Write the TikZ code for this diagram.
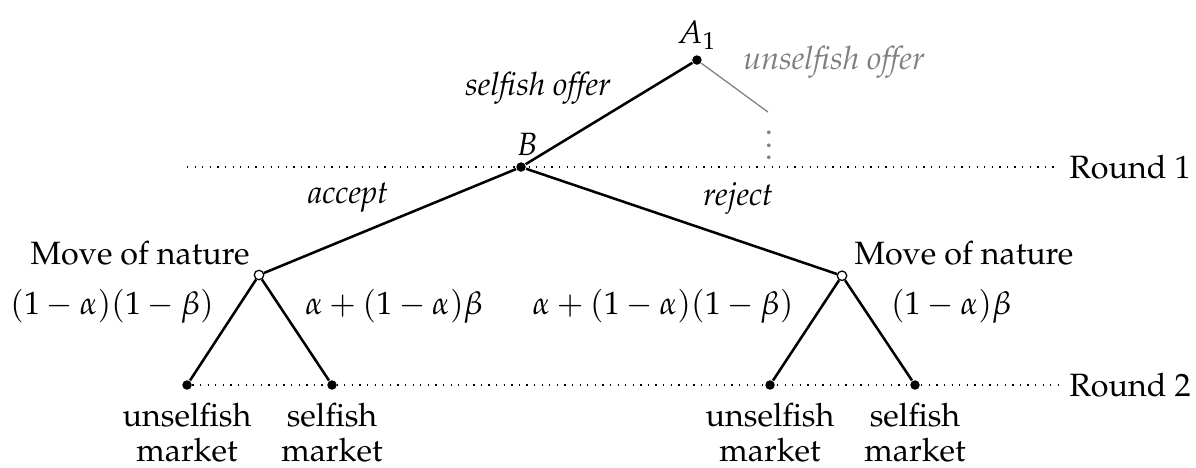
\documentclass[tikz,border=0pt]{standalone}
\usepackage[T1]{fontenc}
\usepackage{mathpazo}
\usepackage{tikz}

\begin{document}
\fontsize{10.2}{11.2}\selectfont
\begin{tikzpicture}
    % styles
    \tikzstyle{player}=[circle, fill=black, inner sep=0pt, minimum size=3pt]
    \tikzstyle{nature}=[circle, draw, fill=white, inner sep=0pt, minimum size=3pt, line width=0.4pt]
    \tikzstyle{move}=[thick]
    \tikzstyle{action}=[font=\itshape]
    \tikzstyle{outcome}=[anchor=north, align=center]
    \tikzstyle{roundline}=[dotted]

    \useasboundingbox (0,0) rectangle (13.289,5.189);

    % decision nodes
    \node[player] (A) at (7.744,4.522) {};
    \node[player] (B) at (5.789,3.333) {};
    \coordinate (U) at (8.533,3.944);

    % moves of nature
    \node[nature] (NL) at (2.878,2.133) {};
    \node[nature] (NR) at (9.356,2.125) {};

    % markets
    \node[player] (LL) at (2.078,0.911) {};
    \node[player] (LR) at (3.689,0.911) {};
    \node[player] (RL) at (8.556,0.911) {};
    \node[player] (RR) at (10.167,0.911) {};

    % rounds
    \node[anchor=west] (R1) at (11.756,3.333) {Round 1};
    \node[anchor=west] (R2) at (11.756,0.911) {Round 2};
    \coordinate (R1s) at (2.078,3.333);
    \draw[roundline] (R1s) -- (R1.west);
    \draw[roundline] (LL) -- (R2.west);

    % edges
    \draw[move] (A) -- (B);
    \draw[gray] (A) -- (U);
    \draw[move] (B) -- (NL);
    \draw[move] (B) -- (NR);
    \draw[move] (NL) -- (LL);
    \draw[move] (NL) -- (LR);
    \draw[move] (NR) -- (RL);
    \draw[move] (NR) -- (RR);

    % labels
    \node (lA) at (7.744,4.80) {$A_1$};
    \node (lB) at (5.856,3.589) {$B$};
    \node[action] (sel) at (5.978,4.211) {selfish offer};
    \node[action, gray] (unsel) at (9.267,4.50) {unselfish offer};
    \node[gray] (dots) at (8.544,3.68) {$\vdots$};
    \node[action] (acc) at (3.867,2.989) {accept};
    \node[action] (rej) at (8.200,2.989) {reject};
    \node (mL) at (1.556,2.378) {Move of nature};
    \node (mR) at (10.711,2.378) {Move of nature};
    \node (pLL) at (1.244,1.79) {$(1-\alpha)(1-\beta)$};
    \node (pLR) at (4.378,1.79) {$\alpha+(1-\alpha)\beta$};
    \node (pRL) at (7.367,1.79) {$\alpha+(1-\alpha)(1-\beta)$};
    \node (pRR) at (10.567,1.79) {$(1-\alpha)\beta$};

    % market labels
    \node[outcome] (tLL) at (2.078,0.84) {unselfish\\market};
    \node[outcome] (tLR) at (3.689,0.84) {selfish\\market};
    \node[outcome] (tRL) at (8.556,0.84) {unselfish\\market};
    \node[outcome] (tRR) at (10.167,0.84) {selfish\\market};
\end{tikzpicture}
\end{document}
